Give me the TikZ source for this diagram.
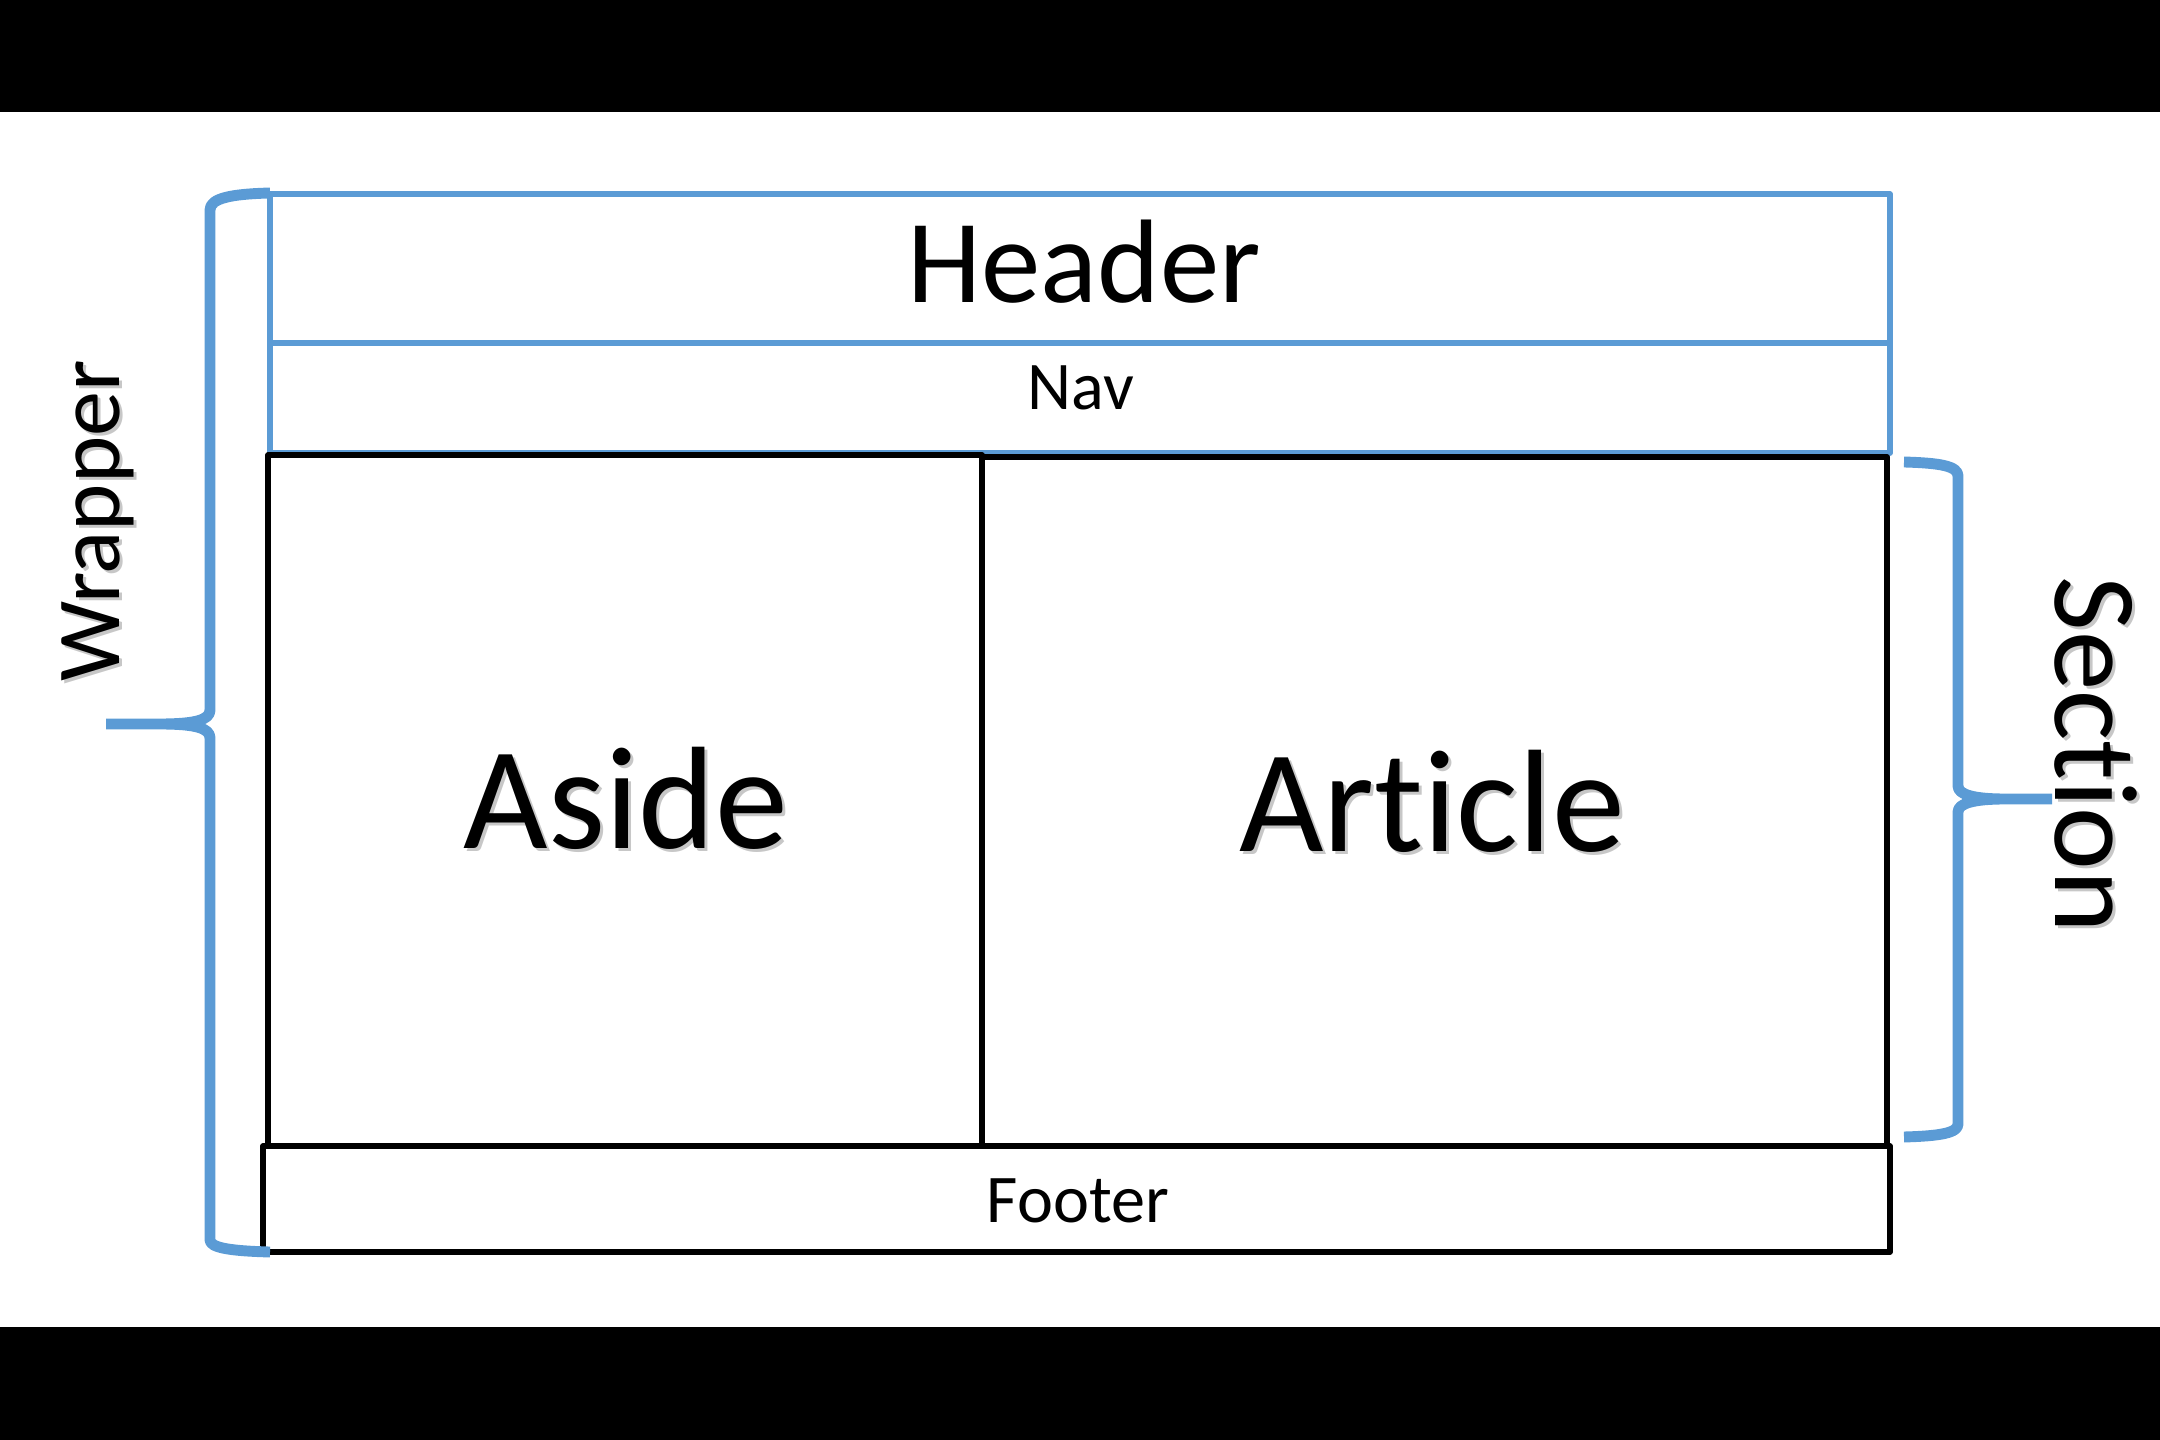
\documentclass[tikz,border=0pt]{standalone}
\usepackage{fontspec}
\setmainfont{Carlito}[RawFeature={-liga,-dlig,-clig}]
\definecolor{layoutblue}{HTML}{5B9BD5}
\begin{document}
\begin{tikzpicture}[x=0.01cm,y=-0.01cm,
  bluebox/.style={draw=layoutblue,line width=1.45pt,line join=round},
  blackbox/.style={draw=black,line width=1.55pt,line join=round},
  brace/.style={draw=layoutblue,line width=3.1pt,line join=round},
  lbl/.style={inner sep=0pt,anchor=base,text=black},
  softshadow/.style={inner sep=0pt,anchor=base,text=black,opacity=0.22},
  huge/.style={font=\fontsize{41.5pt}{48pt}\selectfont},
  big/.style={font=\fontsize{33.8pt}{40pt}\selectfont},
  mid/.style={font=\fontsize{25.6pt}{30pt}\selectfont},
  small/.style={font=\fontsize{19.4pt}{23pt}\selectfont}]
\useasboundingbox (0,0) rectangle (2160,1440);

% letterbox bars
\fill[black] (0,0) rectangle (2160,112);
\fill[black] (0,1327) rectangle (2160,1440);

% page regions
\coordinate (hdrNW) at (270,194);
\coordinate (hdrSE) at (1890,343);
\coordinate (navSE) at (1890,453);
\coordinate (asdNW) at (268,455);
\coordinate (asdSE) at (982,1146);
\coordinate (artNW) at (982,457);
\coordinate (artSE) at (1887,1146);
\coordinate (ftrNW) at (263,1146);
\coordinate (ftrSE) at (1890,1252);

\draw[bluebox] (hdrNW) rectangle (hdrSE);
\draw[bluebox] (270,343) rectangle (navSE);
\draw[blackbox] (asdNW) rectangle (asdSE);
\draw[blackbox] (artNW) rectangle (artSE);
\draw[blackbox] (ftrNW) rectangle (ftrSE);

% region labels
\node[lbl,big]   (header)  at (1084,303) {Header};
\node[lbl,small] (nav)     at (1081,410) {Nav};
\node[softshadow,huge] (asideshadow)   at (629,852) {Aside};
\node[lbl,huge]  (aside)   at (626,849)  {Aside};
\node[softshadow,huge] (articleshadow) at (1435,855) {Article};
\node[lbl,huge]  (article) at (1432,852) {Article};
\node[lbl,small] (footer)  at (1078,1222) {Footer};

% wrapper brace on the left
\draw[brace]
  (270,193) .. controls (232,194) and (210,198) .. (210,210)
  -- (210,710) .. controls (210,720) and (195,724) .. (160,724) -- (106,724)
  (160,724) .. controls (195,724) and (210,728) .. (210,738)
  -- (210,1240) .. controls (210,1248) and (232,1251) .. (270,1252);
\node[softshadow,mid,rotate=90] (wrappershadow) at (123,524) {Wrapper};
\node[lbl,mid,rotate=90] (wrapper) at (120,521) {Wrapper};

% section brace on the right
\draw[brace]
  (1904,462) .. controls (1940,463) and (1958,466) .. (1958,476)
  -- (1958,786) .. controls (1958,795) and (1975,799) .. (2005,799) -- (2052,799)
  (2005,799) .. controls (1975,799) and (1958,803) .. (1958,812)
  -- (1958,1124) .. controls (1958,1133) and (1940,1136) .. (1904,1137);
\node[softshadow,big,rotate=-90] (sectionshadow) at (2058,758) {Section};
\node[lbl,big,rotate=-90] (section) at (2055,755) {Section};
\end{tikzpicture}
\end{document}
